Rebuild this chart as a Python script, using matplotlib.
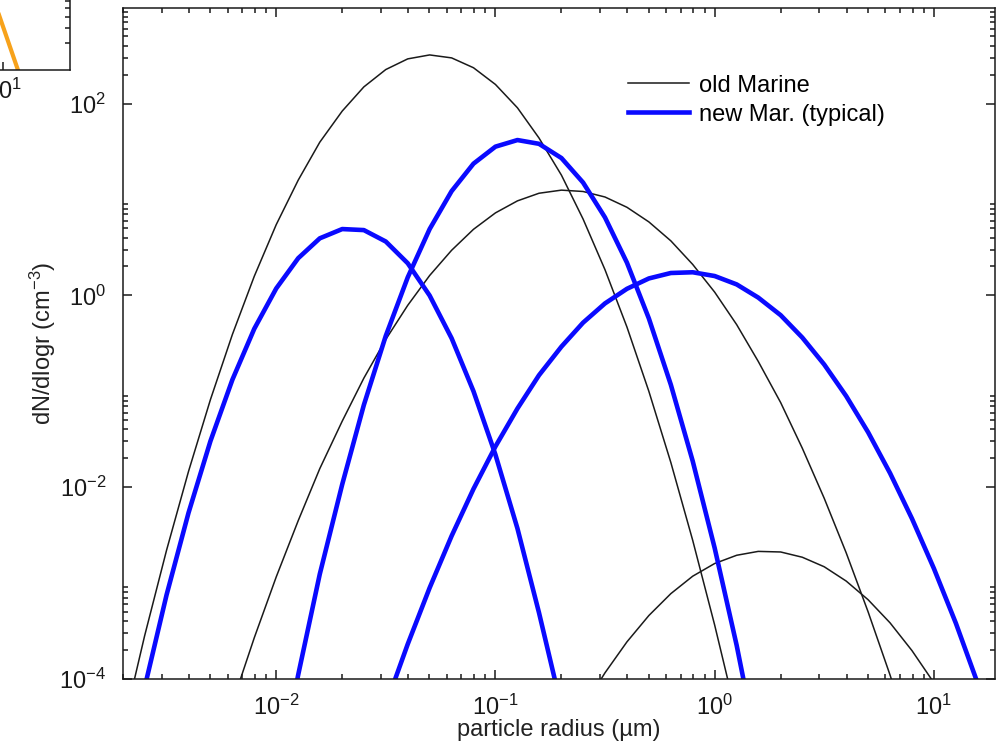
import matplotlib
matplotlib.use("Agg")
import matplotlib.pyplot as plt
from matplotlib.ticker import LogLocator, NullFormatter, NullLocator

# ---- data (radius in um, dN/dlogr in cm^-3) ----
# old Marine, three modes (thin black)
old_r1 = [0.00200, 0.00251, 0.00316, 0.00398, 0.00501, 0.00631, 0.00794, 0.0100, 0.0126, 0.0158,
          0.0200, 0.0251, 0.0316, 0.0398, 0.0501, 0.0631, 0.0794, 0.100, 0.126, 0.158,
          0.200, 0.251, 0.316, 0.398, 0.501, 0.631, 0.794, 1.00, 1.26]
old_n1 = [3.08e-5, 2.82e-4, 2.20e-3, 1.46e-2, 8.18e-2, 0.391, 1.58, 5.46, 15.9, 39.5,
          83.4, 149, 226, 292, 321, 299, 236, 158, 90.2, 43.7,
          17.9, 6.25, 1.85, 0.467, 0.0998, 0.0181, 2.79e-3, 3.65e-4, 4.06e-5]

old_r2 = [0.00631, 0.00794, 0.0100, 0.0126, 0.0158, 0.0200, 0.0251, 0.0316, 0.0398, 0.0501,
          0.0631, 0.0794, 0.100, 0.126, 0.158, 0.200, 0.251, 0.316, 0.398, 0.501,
          0.631, 0.794, 1.00, 1.26, 1.58, 2.00, 2.51, 3.16, 3.98, 5.01, 6.31, 7.94]
old_n2 = [5.61e-5, 2.69e-4, 1.16e-3, 4.48e-3, 1.56e-2, 4.88e-2, 0.137, 0.347, 0.787, 1.61,
          2.95, 4.88, 7.24, 9.66, 11.6, 12.5, 12.1, 10.6, 8.28, 5.83,
          3.70, 2.10, 1.08, 0.495, 0.205, 0.0762, 0.0255, 7.66e-3, 2.07e-3, 5.02e-4, 1.10e-4, 2.16e-5]

old_r3 = [0.251, 0.316, 0.398, 0.501, 0.631, 0.794, 1.00, 1.26, 1.58, 2.00,
          2.51, 3.16, 3.98, 5.01, 6.31, 7.94, 10.0, 12.6]
old_n3 = [4.99e-5, 1.16e-4, 2.44e-4, 4.59e-4, 7.76e-4, 1.18e-3, 1.60e-3, 1.95e-3, 2.14e-3, 2.11e-3,
          1.86e-3, 1.48e-3, 1.05e-3, 6.71e-4, 3.85e-4, 1.98e-4, 9.14e-5, 3.78e-5]

# new Marine (typical), three modes (thick blue)
new_r1 = [0.00200, 0.00251, 0.00316, 0.00398, 0.00501, 0.00631, 0.00794, 0.0100, 0.0126, 0.0158,
          0.0200, 0.0251, 0.0316, 0.0398, 0.0501, 0.0631, 0.0794, 0.100, 0.126, 0.158, 0.200]
new_n1 = [6.89e-6, 8.15e-5, 7.52e-4, 5.40e-3, 0.0302, 0.132, 0.448, 1.18, 2.44, 3.93,
          4.91, 4.79, 3.64, 2.16, 0.995, 0.357, 0.100, 0.0218, 3.71e-3, 4.91e-4, 5.07e-5]

new_r2 = [0.0100, 0.0126, 0.0158, 0.0200, 0.0251, 0.0316, 0.0398, 0.0501, 0.0631, 0.0794,
          0.100, 0.126, 0.158, 0.200, 0.251, 0.316, 0.398, 0.501, 0.631, 0.794,
          1.00, 1.26, 1.58]
new_n2 = [7.83e-6, 1.11e-4, 1.24e-3, 1.07e-2, 0.0719, 0.378, 1.54, 4.91, 12.2, 23.6,
          35.5, 41.6, 38.0, 27.0, 15.0, 6.49, 2.19, 0.574, 0.117, 0.0187,
          2.32e-3, 2.24e-4, 1.69e-5]

new_r3 = [0.0316, 0.0398, 0.0501, 0.0631, 0.0794, 0.100, 0.126, 0.158, 0.200, 0.251,
          0.316, 0.398, 0.501, 0.631, 0.794, 1.00, 1.26, 1.58, 2.00, 2.51,
          3.16, 3.98, 5.01, 6.31, 7.94, 10.0, 12.6, 15.8, 20.0]
new_n3 = [5.33e-5, 2.31e-4, 8.93e-4, 3.10e-3, 9.59e-3, 0.0266, 0.0661, 0.147, 0.292, 0.519,
          0.824, 1.17, 1.50, 1.71, 1.74, 1.59, 1.30, 0.948, 0.621, 0.363,
          0.190, 0.0891, 0.0374, 0.0140, 4.71e-3, 1.42e-3, 3.81e-4, 9.16e-5, 1.97e-5]

x_ticks = [1e-2, 1e-1, 1e0, 1e1]
x_labels = ["$10^{-2}$", "$10^{-1}$", "$10^{0}$", "$10^{1}$"]
y_ticks = [1e-4, 1e-2, 1e0, 1e2]
y_labels = ["$10^{-4}$", "$10^{-2}$", "$10^{0}$", "$10^{2}$"]

# piece of the neighbouring panel cut off at the top-left corner
inset_x = [7.64, 13.6]
inset_y = [8.17, 1.0]

plt.rcParams["font.family"] = ["Liberation Sans", "DejaVu Sans"]
plt.rcParams["mathtext.fontset"] = "custom"
plt.rcParams["mathtext.rm"] = "Liberation Sans"
plt.rcParams["mathtext.it"] = "Liberation Sans:italic"
plt.rcParams["mathtext.bf"] = "Liberation Sans:bold"

W, H = 996, 747
fig = plt.figure(figsize=(W / 100, H / 100), dpi=100)
fig.patch.set_facecolor("white")

ax = fig.add_axes([123 / W, 68 / H, 872 / W, 671.4 / H])
black = dict(color="#1a1a1a", lw=1.1)
blue = dict(color="#0a0aff", lw=3.3)
ax.plot(old_r1, old_n1, label="old Marine", **black)
ax.plot(old_r2, old_n2, **black)
ax.plot(old_r3, old_n3, **black)
ax.plot(new_r1, new_n1, label="new Mar. (typical)", **blue)
ax.plot(new_r2, new_n2, **blue)
ax.plot(new_r3, new_n3, **blue)

ax.set_xscale("log")
ax.set_yscale("log")
ax.set_xlim(2e-3, 19)
ax.set_ylim(1e-4, 1e3)

ax.set_xticks(x_ticks)
ax.set_xticklabels(x_labels)
ax.xaxis.set_minor_locator(LogLocator(base=10, subs=range(2, 10), numticks=20))
ax.xaxis.set_minor_formatter(NullFormatter())
ax.set_yticks(y_ticks)
ax.set_yticklabels(y_labels)
ax.yaxis.set_minor_locator(LogLocator(base=100, subs=range(2, 10), numticks=20))
ax.yaxis.set_minor_formatter(NullFormatter())

ax.tick_params(which="both", direction="in", top=True, right=True, width=1.1, colors="#1a1a1a")
ax.tick_params(which="major", length=6.5, labelsize=17)
ax.tick_params(axis="x", which="major", pad=11)
ax.tick_params(axis="y", which="major", pad=12)
ax.tick_params(which="minor", length=3.5)
for s in ax.spines.values():
    s.set_linewidth(1.1)
    s.set_color("#1a1a1a")

ax.set_xlabel("particle radius (\u00b5m)", fontsize=17, labelpad=0, color="#222222")
ax.set_ylabel("dN/dlogr (cm$^{-3}$)", fontsize=17, labelpad=1, color="#222222")

ax.legend(loc="upper left", bbox_to_anchor=(0.579, 0.90), frameon=False, fontsize=17,
          handlelength=2.6, handletextpad=0.4, labelspacing=0.29, borderpad=0, borderaxespad=0)

# cut-off neighbouring panel
ins = fig.add_axes([-108 / W, (747 - 70) / H, 178 / W, 100 / H])
ins.plot(inset_x, inset_y, color="#f7a21b", lw=3)
ins.set_xscale("log")
ins.set_yscale("log")
ins.set_xlim(1, 40)
ins.set_ylim(1, 13.4)
ins.set_xticks([10])
ins.set_xticklabels(["$10^{1}$"])
ins.xaxis.set_minor_locator(NullLocator())
ins.yaxis.set_major_locator(NullLocator())
ins.yaxis.set_minor_locator(LogLocator(base=10, subs=range(2, 10), numticks=10))
ins.yaxis.set_minor_formatter(NullFormatter())
ins.tick_params(which="both", direction="in", right=True, left=False, width=1.1, colors="#1a1a1a")
ins.tick_params(which="major", length=6, labelsize=17, pad=6)
ins.tick_params(which="minor", length=3.5)
for s in ins.spines.values():
    s.set_linewidth(1.1)
    s.set_color("#1a1a1a")

fig.savefig("out.png", dpi=100)
